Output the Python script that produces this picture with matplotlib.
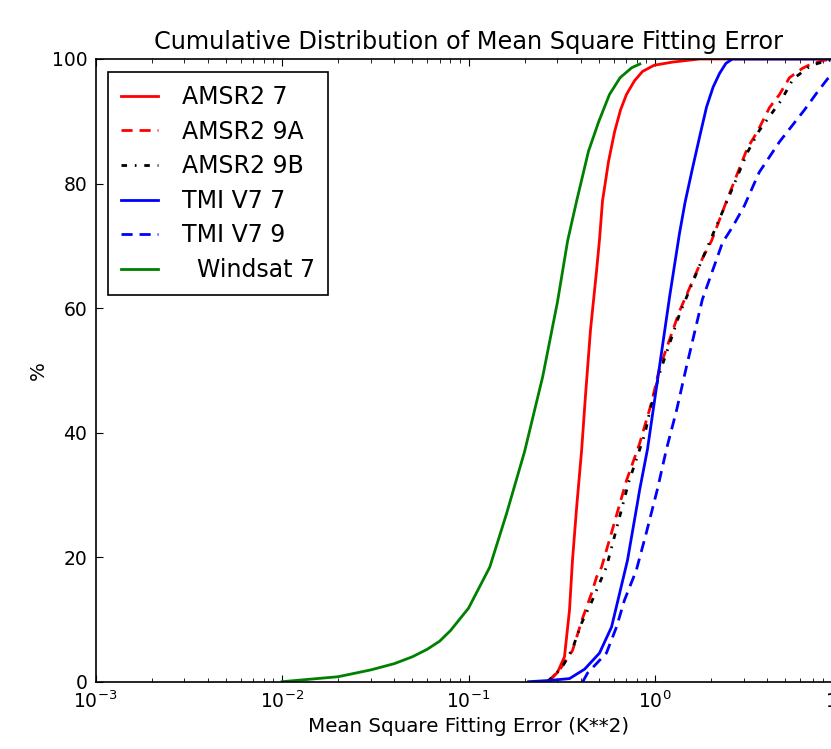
import matplotlib
matplotlib.use("Agg")
import matplotlib.pyplot as plt

# CDF values (x in K**2, y in %)
amsr2_7_x = [0.27, 0.279, 0.30, 0.327, 0.348, 0.361, 0.38, 0.404, 0.424, 0.451, 0.486,
             0.504, 0.523, 0.563, 0.607, 0.653, 0.703, 0.776, 0.857, 0.99, 1.24, 1.73, 10.0]
amsr2_7_y = [0, 0.5, 1.5, 4, 11.5, 19.5, 28, 37.1, 46, 56.5, 66,
             71, 77.2, 83.5, 88.3, 91.8, 94.3, 96.5, 98, 99, 99.5, 100, 100]

amsr2_9a_x = [0.265, 0.282, 0.308, 0.361, 0.409, 0.457, 0.486, 0.517, 0.592, 0.703, 0.826,
              0.958, 1.057, 1.353, 1.798, 2.01, 2.42, 3.13, 3.55, 4.11, 4.65, 5.26, 6.17,
              6.89, 8.1, 9.2, 10.0]
amsr2_9a_y = [0, 0.75, 1.9, 5, 10.2, 14.2, 16.8, 18.4, 24.5, 32.3, 38.2,
              44.8, 50.3, 59.5, 68, 70.8, 77.2, 85.7, 88.4, 92.2, 94.3, 97, 98.5,
              99.2, 99.8, 100, 100]

amsr2_9b_x = [0.265, 0.316, 0.361, 0.404, 0.457, 0.517, 0.549, 0.722, 0.883, 0.934,
              1.057, 1.353, 1.8, 2.42, 3.13, 3.62, 4.76, 5.5, 6.89, 7.9, 9.2, 10.0]
amsr2_9b_y = [0, 2.2, 5.3, 9.4, 12.8, 16.6, 18.4, 32, 39.8, 43.2,
              49.5, 59, 68, 77, 85, 88.5, 93.4, 96.8, 99, 99.5, 100, 100]

tmi_7_x = [0.21, 0.272, 0.348, 0.419, 0.504, 0.585, 0.646, 0.712, 0.806, 0.826, 0.911,
           0.994, 1.057, 1.2, 1.353, 1.45, 1.59, 1.75, 1.89, 2.05, 2.22, 2.4, 2.6, 10.0]
tmi_7_y = [0, 0.2, 0.5, 2, 4.6, 8.8, 14.2, 19.5, 28.8, 30.7, 37.3,
           45.1, 50.6, 62, 72, 77, 82.5, 88, 92.3, 95.5, 97.7, 99.3, 100, 100]

tmi_9_x = [0.41, 0.435, 0.549, 0.622, 0.686, 0.794, 0.900, 1.032, 1.151, 1.303, 1.475,
           1.795, 2.30, 2.6, 3.01, 3.62, 4.65, 6.32, 7.43, 8.41, 10.0]
tmi_9_y = [0, 1.4, 4.6, 8.8, 13.1, 17.9, 24, 31, 37.3, 43.5, 50.6,
           61.4, 70.5, 73, 76.4, 81.8, 86.7, 91.8, 94.7, 96.8, 98.5]

windsat_7_x = [0.01, 0.02, 0.03, 0.04, 0.05, 0.06, 0.07, 0.08, 0.1, 0.13, 0.16, 0.2,
               0.25, 0.3, 0.34, 0.38, 0.44, 0.5, 0.57, 0.65, 0.75, 0.83]
windsat_7_y = [0, 0.8, 1.9, 2.9, 4.0, 5.2, 6.5, 8.2, 11.8, 18.4, 27, 37,
               49, 61, 70.8, 77.2, 85.2, 90, 94.3, 97, 98.6, 99.2]

plt.rcParams['font.family'] = 'DejaVu Sans'
plt.rcParams['mathtext.default'] = 'regular'

fig = plt.figure(figsize=(8.31, 7.49), dpi=100, facecolor='white')
# axes runs past the right edge of the picture, as in the reference crop
ax = fig.add_axes([95.5 / 831, 67.3 / 749, 746 / 831, 622.7 / 749])

lw = 2.0
dash = (4, 2.5)           # scaled by lw
dashdot = (2, 2.8, 0.6, 2.8)
ax.plot(amsr2_7_x, amsr2_7_y, color='r', lw=lw, label='AMSR2 7')
ax.plot(amsr2_9a_x, amsr2_9a_y, color='r', lw=lw, dashes=dash, label='AMSR2 9A')
ax.plot(amsr2_9b_x, amsr2_9b_y, color='k', lw=lw, dashes=dashdot, label='AMSR2 9B')
ax.plot(tmi_7_x, tmi_7_y, color='b', lw=lw, label='TMI V7 7')
ax.plot(tmi_9_x, tmi_9_y, color='b', lw=lw, dashes=dash, label='TMI V7 9')
ax.plot(windsat_7_x, windsat_7_y, color='g', lw=lw, label='  Windsat 7')

ax.set_xscale('log')
ax.set_xlim(1e-3, 1e1)
ax.set_ylim(0, 100)
ax.set_yticks([0, 20, 40, 60, 80, 100])

ax.tick_params(which='both', direction='in', top=True, right=True, labelsize=13.5)
ax.tick_params(which='major', length=5, pad=6)
ax.tick_params(which='minor', length=3)
for sp in ax.spines.values():
    sp.set_linewidth(1.2)

ax.set_title('Cumulative Distribution of Mean Square Fitting Error', fontsize=17.3, pad=7)
ax.set_xlabel('Mean Square Fitting Error (K**2)', fontsize=14.3, labelpad=4)
ax.set_ylabel('%', fontsize=14.3, labelpad=3)

leg = ax.legend(loc='upper left', fontsize=17, fancybox=False, framealpha=1,
                edgecolor='black', handlelength=1.55, handletextpad=1.0,
                labelspacing=0.45, borderpad=0.55, borderaxespad=0.55)
leg.get_frame().set_linewidth(1.2)

fig.savefig('out.png', dpi=100, facecolor='white')
